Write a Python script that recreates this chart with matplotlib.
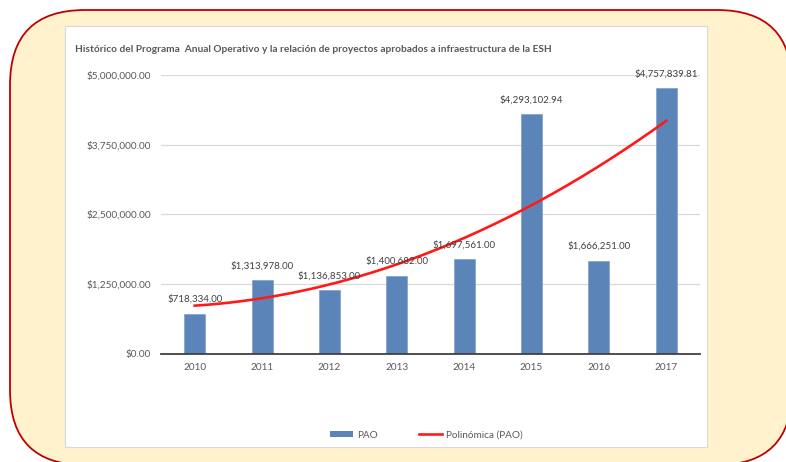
import numpy as np
import matplotlib
matplotlib.use("Agg")
import matplotlib.pyplot as plt
from matplotlib.patches import FancyBboxPatch, Rectangle, Patch
from matplotlib.lines import Line2D
from matplotlib.ticker import FuncFormatter

# Datos
years = ["2010", "2011", "2012", "2013", "2014", "2015", "2016", "2017"]
pao = [718334.00, 1313978.00, 1136853.00, 1400682.00, 1697561.00, 4293102.94, 1666251.00, 4757839.81]
y_ticks = [0, 1250000, 2500000, 3750000, 5000000]

plt.rcParams["font.family"] = ["Lato", "DejaVu Sans"]

fig = plt.figure(figsize=(7.86, 4.62), dpi=100)

# Fondo: rectángulo redondeado crema con borde rojo
fondo = FancyBboxPatch((10, -3), 782, 455, boxstyle="round,pad=0,rounding_size=75",
                       transform=None, facecolor="#FFF2CC", edgecolor="#C00000",
                       linewidth=1.3, zorder=-3)
fig.patches.append(fondo)
# Área blanca del gráfico
area = Rectangle((65, 15), 642, 421, transform=None, facecolor="white",
                 edgecolor="#D9D9D9", linewidth=0.8, zorder=-2)
fig.patches.append(area)

ax = fig.add_axes([161 / 786, 108.3 / 462, 539 / 786, 278.7 / 462])
ax.set_facecolor("none")

x = np.arange(len(years))
ax.bar(x, pao, width=0.31, color="#5B84B9", edgecolor="#7FA0CC", linewidth=0.5, zorder=2)

# Línea de tendencia polinómica (orden 2), como la de Excel
coef = np.polyfit(x, pao, 2)
xs = np.linspace(0, len(years) - 1, 200)
ax.plot(xs, np.polyval(coef, xs), color="#FF1A1A", linewidth=1.9, zorder=4)

for xi, v in zip(x, pao):
    ax.annotate(f"${v:,.2f}", (xi, v), xytext=(0, 7), textcoords="offset points",
                ha="center", va="bottom", fontsize=7.0, color="#404040", zorder=5)

ax.set_xlim(-0.5, len(years) - 0.5)
ax.set_ylim(0, 5000000)
ax.set_xticks(x)
ax.set_xticklabels(years)
ax.set_yticks(y_ticks)
ax.yaxis.set_major_formatter(FuncFormatter(lambda v, p: f"${v:,.2f}"))
ax.tick_params(axis="both", length=0, labelsize=7.2, labelcolor="#595959")
ax.tick_params(axis="y", pad=7)
ax.tick_params(axis="x", pad=7)
ax.grid(axis="y", color="#D9D9D9", linewidth=0.9, zorder=0)
ax.set_axisbelow(True)
for s in ["top", "right", "left"]:
    ax.spines[s].set_visible(False)
ax.spines["bottom"].set_color("#404040")
ax.spines["bottom"].set_linewidth(1.3)
ax.spines["bottom"].set_zorder(3)

fig.text(75 / 786, 412 / 462, "Histórico del Programa  Anual Operativo y la relación de proyectos aprobados a infraestructura de la ESH",
         fontsize=7.3, fontweight="bold", color="#595959", va="center", ha="left")

handles = [Patch(facecolor="#5B84B9"), Line2D([], [], color="#FF1A1A", linewidth=1.9)]
fig.legend(handles, ["PAO", "Polinómica (PAO)"], loc="center", bbox_to_anchor=(426 / 786, 27 / 462),
           ncol=2, frameon=False, fontsize=7.2, labelcolor="#595959", handlelength=2.3,
           handleheight=0.6, columnspacing=4.1, handletextpad=0.4)

fig.savefig("out.png", dpi=100)
